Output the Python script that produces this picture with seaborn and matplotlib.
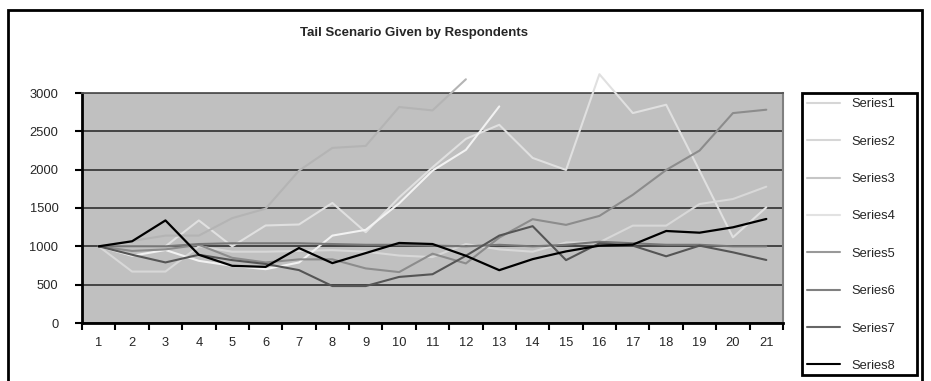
import numpy as np
import pandas as pd
import matplotlib
matplotlib.use("Agg")
import matplotlib.pyplot as plt
from matplotlib.lines import Line2D
from matplotlib.patches import Rectangle
import seaborn as sns

categories = list(range(1, 22))
series1 = [1000, 1000, 1000, 1338, 1000, 1272, 1285, 1566, 1184, 1638, 2030,
           2402, 2585, 2153, 1996, 3245, 2738, 2847, 1987, 1117, 1509]
series2 = [1000, 671, 671, 1000, 930, 930, 940, 950, 930, 880, 860,
           1030, 960, 930, 1050, 1052, 1270, 1270, 1552, 1617, 1778]
series3 = [1000, 1070, 1140, 1140, 1368, 1491, 1987, 2284, 2310, 2817, 2773,
           3179] + [np.nan] * 9
series4 = [1000, 877, 952, 811, 746, 702, 789, 1140, 1215, 1560, 1987,
           2258, 2825] + [np.nan] * 8
series5 = [1000, 940, 960, 1020, 850, 790, 830, 830, 712, 664, 904,
           777, 1114, 1354, 1280, 1397, 1672, 1996, 2249, 2738, 2782]
series6 = [1000, 1000, 1000, 1030, 1040, 1040, 1040, 1030, 1020, 1020, 1010,
           1000, 1020, 1000, 1020, 1060, 1040, 1020, 1020, 1000, 1000]
series7 = [1000, 890, 790, 890, 820, 770, 690, 482, 482, 601, 636,
           877, 1140, 1263, 820, 1040, 1009, 870, 1009, 922, 822]
series8 = [1000, 1066, 1338, 890, 746, 732, 978, 781, 912, 1044, 1030,
           877, 689, 833, 934, 1009, 1022, 1200, 1178, 1248, 1357]

series_names = ["Series1", "Series2", "Series3", "Series4",
                "Series5", "Series6", "Series7", "Series8"]
series_values = [series1, series2, series3, series4,
                 series5, series6, series7, series8]
y_ticks = [0, 500, 1000, 1500, 2000, 2500, 3000]
title = "Tail Scenario Given by Respondents"

colors = ["#e0e0e0", "#d8d8d8", "#b4b4b4", "#f2f2f2",
          "#8c8c8c", "#777777", "#555555", "#000000"]
legend_colors = ["#d6d6d6", "#d6d6d6", "#c6c6c6", "#e2e2e2",
                 "#999999", "#808080", "#666666", "#000000"]

sns.set_theme(style="white")
plt.rcParams['font.family'] = ['Liberation Sans', 'DejaVu Sans']

W, H = 931, 381
fig = plt.figure(figsize=(W / 100, H / 100), dpi=100)
fig.patch.set_facecolor("white")

# outer chart border
fig.add_artist(Rectangle((8 / W, -0.05), (922 - 8) / W, 1 - 10 / H + 0.05,
                         transform=fig.transFigure, fill=False,
                         edgecolor="black", lw=2.0))

left, right, top, bottom = 82, 783, 93, 323
ax = fig.add_axes([left / W, 1 - bottom / H, (right - left) / W, (bottom - top) / H])
ax.set_facecolor("#c0c0c0")

rows = []
for name, vals in zip(series_names, series_values):
    for c, v in zip(categories, vals):
        rows.append({"cat": c, "value": v, "series": name})
df = pd.DataFrame(rows)

for name, col in zip(series_names, colors):
    sub = df[(df["series"] == name)].dropna()
    lw = 1.6 if name == "Series8" else 1.5
    sns.lineplot(data=sub, x="cat", y="value", color=col, lw=lw, ax=ax,
                 legend=False, zorder=3)
for ln in ax.lines:
    ln.set_clip_on(False)

ax.set_xlim(0.5, 21.5)
ax.set_ylim(0, 3000)
ax.set_yticks(y_ticks)
ax.set_yticklabels([str(t) for t in y_ticks], fontsize=9.3)
ax.set_xticks(categories)
ax.set_xticklabels([str(c) for c in categories], fontsize=9.3)
ax.set_xlabel("")
ax.set_ylabel("")
for t in y_ticks:
    ax.axhline(t, color="#3a3a3a", lw=1.3, zorder=1)

ax.tick_params(axis="x", length=0, pad=10)
ax.tick_params(axis="y", length=5, width=1.5, color="black", pad=12,
               left=True, direction="out")
ax.set_xticks(np.arange(0.5, 22, 1.0), minor=True)
ax.tick_params(axis="x", which="minor", length=5, width=1.5, color="black",
               bottom=True, direction="out")

for s in ["left", "bottom"]:
    ax.spines[s].set_visible(True)
    ax.spines[s].set_color("black")
    ax.spines[s].set_linewidth(2.0)
ax.spines["right"].set_color("#808080")
ax.spines["right"].set_linewidth(1.5)
ax.spines["top"].set_color("#555555")
ax.spines["top"].set_linewidth(1.3)

fig.text(414 / W, 1 - 33 / H, title, ha="center", va="center",
         fontsize=9.5, fontweight="bold")

# legend frame drawn explicitly
fig.add_artist(Rectangle((802 / W, 1 - 375 / H), (917 - 802) / W, (375 - 93) / H,
                         transform=fig.transFigure, fill=True,
                         facecolor="white", edgecolor="black", lw=2.0, zorder=5))
handles = [Line2D([0], [0], color=c, lw=1.5) for c in legend_colors]
leg = fig.legend(handles, series_names, loc="upper left",
                 bbox_to_anchor=(803 / W, 1 - 94.5 / H), fontsize=9.3,
                 frameon=False, labelspacing=1.96,
                 borderpad=0.3, handlelength=2.6, handletextpad=0.85,
                 borderaxespad=0)
leg.set_zorder(6)

fig.savefig("out.png", dpi=100)
